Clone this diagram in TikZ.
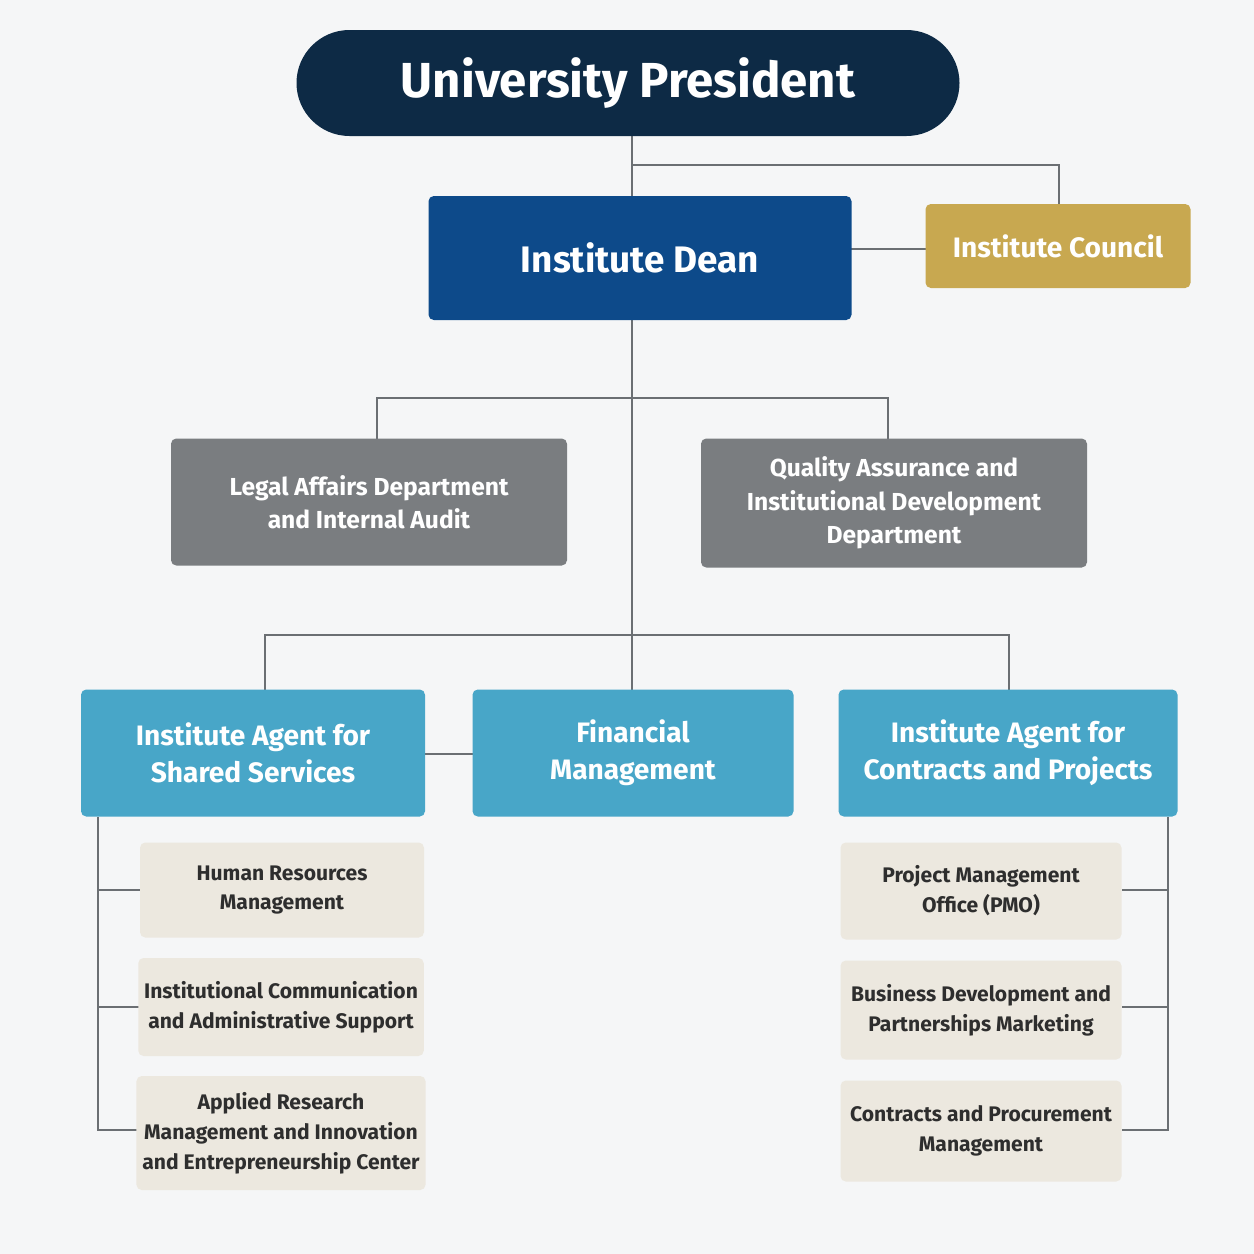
\documentclass[tikz,border=0pt]{standalone}
\usepackage{fontspec}
\setmainfont{Fira Sans}
\definecolor{bgcol}{HTML}{F5F6F7}
\definecolor{presblue}{HTML}{0D2A45}
\definecolor{deanblue}{HTML}{0D4A8A}
\definecolor{gold}{HTML}{C8A850}
\definecolor{deptgray}{HTML}{7A7D80}
\definecolor{agentcyan}{HTML}{48A6C8}
\definecolor{unitbeige}{HTML}{ECE8DF}
\definecolor{linegray}{HTML}{6B6F73}
\definecolor{unittext}{HTML}{2E2E2E}
\tikzset{
  box/.style={shape=rectangle, rounded corners=3pt, align=center, text=white, font=\bfseries},
  dept/.style={box, fill=deptgray, font=\bfseries\fontsize{14}{19}\selectfont},
  agent/.style={box, fill=agentcyan, font=\bfseries\fontsize{16}{21}\selectfont},
  unit/.style={box, fill=unitbeige, text=unittext, font=\bfseries\fontsize{12}{17}\selectfont},
  link/.style={draw=linegray, line width=1.1pt}
}
\begin{document}
\begin{tikzpicture}[x=0.02cm, y=-0.02cm]
          \fill[bgcol] (0,0) rectangle (1254,1254);
          \useasboundingbox (0,0) rectangle (1254,1254);

          % links
          \coordinate (pj) at (632,165);
          \coordinate (cj) at (1059,165);
          \coordinate (dl) at (377,398);
          \coordinate (dr) at (888,398);
          \coordinate (al) at (265,635);
          \coordinate (ar) at (1009,635);
          \coordinate (ls) at (98,817);
          \coordinate (lb) at (98,1130);
          \coordinate (rs) at (1168,817);
          \coordinate (rb) at (1168,1130);
          \draw[link] (632,136) -- (632,690);
          \draw[link] (pj) -- (cj) -- (1059,204);
          \draw[link] (851,249) -- (926,249);
          \draw[link] (377,439) -- (dl) -- (dr) -- (888,439);
          \draw[link] (265,690) -- (al) -- (ar) -- (1009,690);
          \draw[link] (425,754) -- (473,754);
          \draw[link] (ls) -- (lb) -- (140,1130);
          \draw[link] (98,890) -- (140,890);
          \draw[link] (98,1007) -- (140,1007);
          \draw[link] (rs) -- (rb) -- (1122,1130);
          \draw[link] (1168,890) -- (1122,890);
          \draw[link] (1168,1007) -- (1122,1007);

          % nodes
          \node[box, fill=presblue, rounded corners=53*0.02cm, minimum width=663*0.02cm, minimum height=106*0.02cm,
          font=\bfseries\fontsize{28}{32}\selectfont] at (628,83) (pres) {University President};
          \node[box, fill=deanblue, minimum width=423*0.02cm, minimum height=124*0.02cm,
          font=\bfseries\fontsize{21}{25}\selectfont] at (640,258) (dean) {Institute Dean};
          \node[box, fill=gold, minimum width=265*0.02cm, minimum height=84*0.02cm,
          font=\bfseries\fontsize{16}{20}\selectfont] at (1058,246) (council) {Institute Council};
          \node[dept, minimum width=396*0.02cm, minimum height=127*0.02cm] at (369,502)
          (legal) {Legal Affairs Department\\and Internal Audit};
          \node[dept, minimum width=386*0.02cm, minimum height=129*0.02cm] at (894,503)
          (quality) {Quality Assurance and\\Institutional Development\\Department};
          \node[agent, minimum width=344*0.02cm, minimum height=127*0.02cm] at (253,753)
          (shared) {Institute Agent for\\Shared Services};
          \node[agent, minimum width=321*0.02cm, minimum height=127*0.02cm] at (633,753)
          (finance) {Financial\\Management};
          \node[agent, minimum width=339*0.02cm, minimum height=127*0.02cm] at (1008,753)
          (contracts) {Institute Agent for\\Contracts and Projects};
          \node[unit, minimum width=284*0.02cm, minimum height=95*0.02cm] at (282,890)
          (hr) {Human Resources\\Management};
          \node[unit, minimum width=282*0.02cm, minimum height=98*0.02cm] at (281,1007)
          (comm) {Institutional Communication\\and Administrative Support};
          \node[unit, minimum width=282*0.02cm, minimum height=114*0.02cm] at (281,1133)
          (research) {Applied Research\\Management and Innovation\\and Entrepreneurship Center};
          \node[unit, minimum width=281*0.02cm, minimum height=97*0.02cm] at (981,891)
          (pmo) {Project Management\\Office (PMO)};
          \node[unit, minimum width=281*0.02cm, minimum height=99*0.02cm] at (981,1010)
          (bizdev) {Business Development and\\Partnerships Marketing};
          \node[unit, minimum width=281*0.02cm, minimum height=101*0.02cm] at (981,1131)
          (procure) {Contracts and Procurement\\Management};
\end{tikzpicture}
\end{document}
